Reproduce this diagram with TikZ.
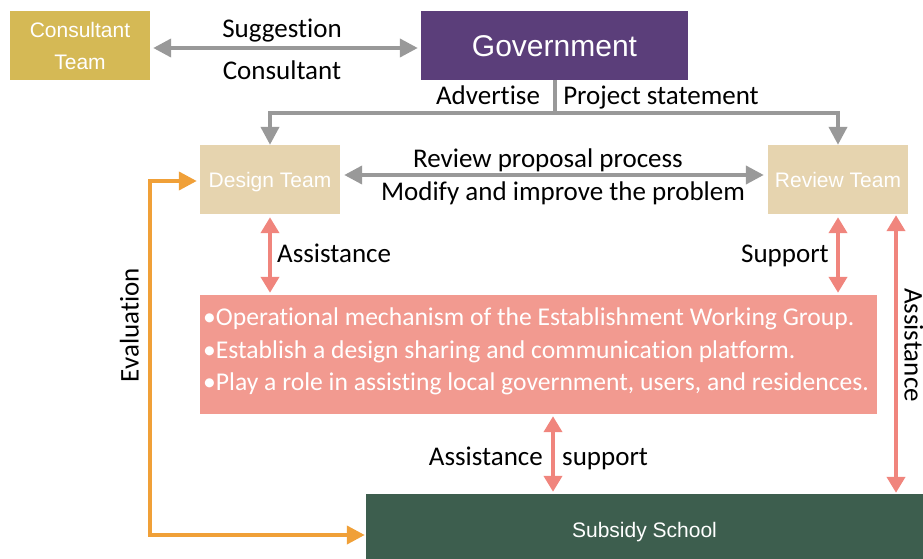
\documentclass[tikz,border=0pt]{standalone}
\usepackage{fontspec}
\setmainfont{Carlito}[Ligatures=NoCommon]
\newfontfamily\helv{Liberation Sans}
\usetikzlibrary{arrows.meta,calc}
\definecolor{cgold}{HTML}{D5B955}
\definecolor{cpurple}{HTML}{5B3E7A}
\definecolor{cbeige}{HTML}{E6D4AF}
\definecolor{cpink}{HTML}{F29A90}
\definecolor{cgreen}{HTML}{3D5E4E}
\definecolor{cgray}{HTML}{999999}
\definecolor{cred}{HTML}{F0857D}
\definecolor{corange}{HTML}{F0A038}
\tikzset{
  box/.style={rectangle, inner sep=0pt, text=white, align=center, text height=15pt, text depth=0pt, font=\helv\fontsize{21}{32}\selectfont},
  lbl/.style={inner sep=0pt, text=black, text height=17pt, text depth=0pt, font=\fontsize{27}{32}\selectfont},
  garrow/.style={draw=cgray, line width=4pt, -{Triangle[length=18pt,width=18pt]}},
  garrows/.style={draw=cgray, line width=4pt, {Triangle[length=18pt,width=18pt]}-{Triangle[length=18pt,width=18pt]}},
  gline/.style={draw=cgray, line width=4pt},
  rarrows/.style={draw=cred, line width=4pt, {Triangle[length=16pt,width=18pt]}-{Triangle[length=16pt,width=18pt]}},
  oarrows/.style={draw=corange, line width=4pt, {Triangle[length=18pt,width=18pt]}-{Triangle[length=18pt,width=18pt]}},
}
\begin{document}
\begin{tikzpicture}[x=1pt,y=-1pt]
\useasboundingbox (0,0) rectangle (923,559);
\node[box, fill=cgold, minimum width=140pt, minimum height=69pt, text height=, text depth=] (consult) at (80,45.5) {Consultant\\Team};
\node[box, fill=cpurple, minimum width=267pt, minimum height=69pt, text height=21.5pt, font=\helv\fontsize{30}{34}\selectfont] (gov) at (554.5,45.5) {Government};
\node[box, fill=cbeige, minimum width=140pt, minimum height=69pt] (design) at (270,179.5) {Design Team};
\node[box, fill=cbeige, minimum width=140pt, minimum height=69pt] (review) at (838,179.5) {Review Team};
\node[box, fill=cpink, minimum width=677pt, minimum height=119pt] (pink) at (538.5,354.5) {};
\node[box, fill=cgreen, minimum width=557pt, minimum height=72pt] (school) at (644.5,530) {Subsidy School};
\node[lbl, anchor=west, align=left, text=white, text height=, text depth=, font=\fontsize{25.6}{32.5}\selectfont] (pinktext) at (203,351.5) {•Operational mechanism of the Establishment Working Group.\\•Establish a design sharing and communication platform.\\•Play a role in assisting local government, users, and residences.};
% consultant <-> government
\draw[garrows, shorten <=3pt, shorten >=3pt] (consult.east |- 0,48) -- (gov.west |- 0,48);
\node[lbl] (sugg) at (282,29) {Suggestion};
\node[lbl] (cons) at (282,71.5) {Consultant};
% government to teams
\coordinate (junc) at (555,113);
\draw[gline] (gov.south -| junc) -- (junc);
\draw[garrow] (junc) -| (design.north);
\draw[garrow] (junc) -| (review.north);
\node[lbl] (adv) at (488,96) {Advertise};
\node[lbl] (proj) at (661,96) {Project statement};
% design <-> review
\draw[garrows, shorten <=4pt, shorten >=4pt] (design.east |- 0,175) -- (review.west |- 0,175);
\node[lbl] (rpp) at (548,159) {Review proposal process};
\node[lbl] (mip) at (563,192) {Modify and improve the problem};
% design <-> pink
\draw[rarrows, shorten <=3pt, shorten >=2pt] (design.south) -- (design.south |- pink.north);
\node[lbl, anchor=west] (assist1) at (277,253.5) {Assistance};
% review <-> pink
\draw[rarrows, shorten <=3pt, shorten >=2pt] (review.south) -- (review.south |- pink.north);
\node[lbl, anchor=east] (supp1) at (829,253.5) {Support};
% pink <-> school
\coordinate (ps) at (553,0);
\draw[rarrows, shorten <=2pt, shorten >=2pt] (pink.south -| ps) -- (school.north -| ps);
\node[lbl, anchor=east] (assist2) at (543,457) {Assistance};
\node[lbl, anchor=west] (supp2) at (562,457) {support};
% review <-> school (right)
\coordinate (ra) at (896,0);
\draw[rarrows, shorten <=1pt, shorten >=1pt] (review.south -| ra) -- (school.north -| ra);
\node[lbl, rotate=-90] (assist3) at (913,345) {Assistance};
% evaluation
\coordinate (evtop) at (150,181);
\coordinate (evbot) at (150,535);
\draw[oarrows, shorten <=3pt, shorten >=1pt] (design.west |- evtop) -- (evtop) -- (evbot) -- (school.west |- evbot);
\node[lbl, rotate=90] (evalu) at (130,325) {Evaluation};
\end{tikzpicture}
\end{document}
